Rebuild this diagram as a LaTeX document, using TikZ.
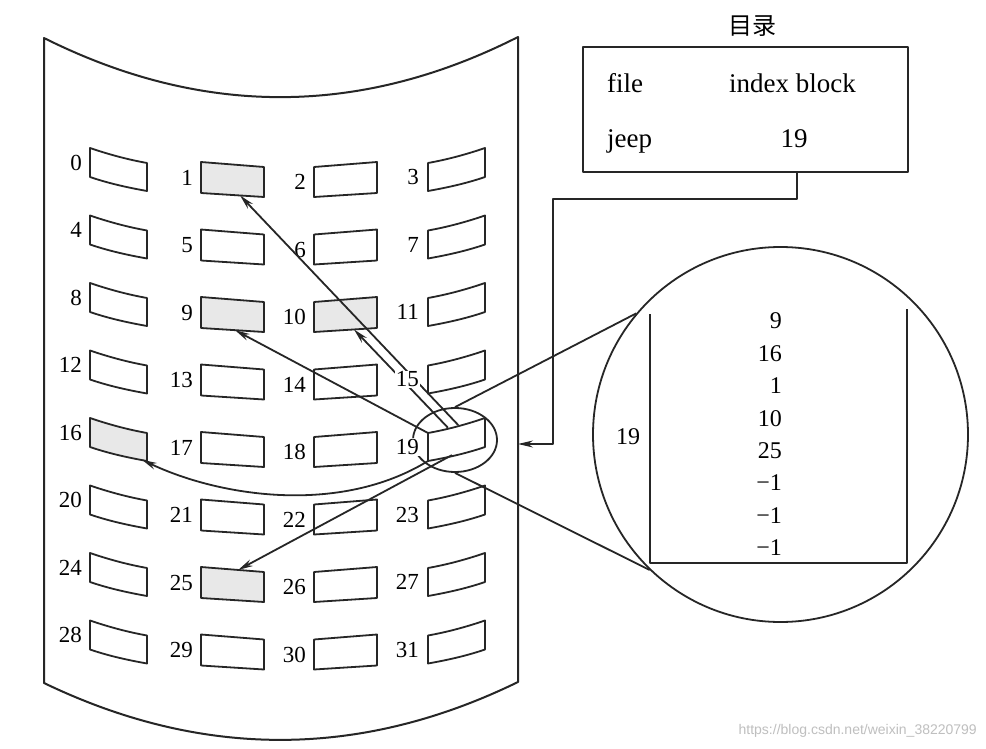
\documentclass[tikz,border=0pt]{standalone}
\usepackage{fontspec}
\setmainfont{Liberation Serif}
\newfontfamily\cjkfont{Noto Sans CJK SC}
\newfontfamily\wmfont{Liberation Sans}
\usetikzlibrary{arrows.meta,shapes.geometric,calc}
\begin{document}
\begin{tikzpicture}[x=1pt,y=-1pt,line join=round,
  ln/.style={line width=1.8pt,draw=black!85},
  blk/.style={ln},
  lbl/.style={font=\fontsize{23}{25}\selectfont,anchor=east,inner sep=0pt},
  val/.style={font=\fontsize{24}{26}\selectfont,anchor=east,inner sep=0pt},
  tab/.style={font=\fontsize{27}{29}\selectfont,inner sep=0pt},
  arr/.style={ln,-{Stealth[length=15pt,width=7pt,inset=5pt]}},
  mask/.style={fill=white,inner sep=1pt}]
\useasboundingbox (0,0) rectangle (986,749);
\fill[white] (0,0) rectangle (986,749);

% disk surface
\draw[ln,line width=2pt] (44,38) -- (44,683) .. controls (202,759) and (360,759) .. (518,682)
  -- (518,37) .. controls (360,117) and (202,117) .. cycle;
\coordinate (diskin) at (518,444);

% blocks
\foreach \r in {0,...,7}{
  \pgfmathsetmacro\ya{148+67.5*\r}
  \pgfmathsetmacro\yb{162+67.5*\r}
  \foreach \c in {0,1,2,3}{
    \pgfmathtruncatemacro\n{4*\r+\c}
    \pgfmathtruncatemacro\s{(\n==1)||(\n==9)||(\n==10)||(\n==16)||(\n==25)}
    \ifnum\s=1 \def\fc{black!9}\else\def\fc{white}\fi
    \ifcase\c
      \draw[blk,fill=\fc] (90,\ya) .. controls (109,\ya+6.5) and (128,\ya+11.6) .. (147,\ya+15)
        -- (147,\ya+43) .. controls (128,\ya+39.6) and (109,\ya+35.5) .. (90,\ya+29) -- cycle;
      \coordinate (b\n-tl) at (90,\ya); \coordinate (b\n-tr) at (147,\ya+15);
      \coordinate (b\n-br) at (147,\ya+43); \coordinate (b\n-bl) at (90,\ya+29);
      \node[lbl] (l\n) at (82,\ya+14.5) {\n};
    \or
      \draw[blk,fill=\fc] (201,\yb) -- (264,\yb+5) -- (264,\yb+35) -- (201,\yb+31) -- cycle;
      \coordinate (b\n-tl) at (201,\yb); \coordinate (b\n-tr) at (264,\yb+5);
      \coordinate (b\n-br) at (264,\yb+35); \coordinate (b\n-bl) at (201,\yb+31);
      \node[lbl] (l\n) at (193,\yb+15.5) {\n};
    \or
      \draw[blk,fill=\fc] (314,\yb+5) -- (377,\yb) -- (377,\yb+31) -- (314,\yb+35) -- cycle;
      \coordinate (b\n-tl) at (314,\yb+5); \coordinate (b\n-tr) at (377,\yb);
      \coordinate (b\n-br) at (377,\yb+31); \coordinate (b\n-bl) at (314,\yb+35);
      \node[lbl] (l\n) at (306,\yb+20) {\n};
    \or
      \draw[blk,fill=\fc] (485,\ya) .. controls (466,\ya+6.5) and (447,\ya+11.6) .. (428,\ya+15)
        -- (428,\ya+43) .. controls (447,\ya+39.6) and (466,\ya+35.5) .. (485,\ya+29) -- cycle;
      \coordinate (b\n-tl) at (428,\ya+15); \coordinate (b\n-tr) at (485,\ya);
      \coordinate (b\n-br) at (485,\ya+29); \coordinate (b\n-bl) at (428,\ya+43);
      \ifnum\n=15 \else\ifnum\n=19 \else
      \node[lbl] (l\n) at (419,\ya+29) {\n};
      \fi\fi
    \fi
  }
}

% magnifier
\node[ellipse,ln,draw,minimum width=84pt,minimum height=64pt,inner sep=0pt] (mag) at (455,440) {};
\node[circle,ln,draw,minimum size=375pt,inner sep=0pt] (big) at (780.5,434.5) {};
\draw[ln] (mag.north) -- (big.140.6);
\draw[ln] (mag.south) -- (big.226);

% pointers of index block 19
\coordinate (s1) at ($(b19-tl)!0.53!(b19-tr)$);
\coordinate (s10) at ($(b19-tl)!0.35!(b19-tr)$);
\coordinate (s25) at ($(b19-bl)!0.42!(b19-br)$);
\coordinate (t1) at ($(b1-bl)!0.62!(b1-br)$);
\coordinate (t10) at ($(b10-bl)!0.635!(b10-br)$);
\coordinate (t9) at ($(b9-bl)!0.54!(b9-br)$);
\coordinate (t16) at ($(b16-bl)!0.91!(b16-br)$);
\coordinate (t25) at ($(b25-tl)!0.59!(b25-tr)$);
\draw[arr] (s1) -- (t1);
\draw[arr] (s10) -- (t10);
\draw[arr] (b19-tl) -- (t9);
\draw[arr] (b19-bl) .. controls (340,515) and (220,497) .. (t16);
\draw[arr] (s25) -- (t25);

% labels 15 and 19 (masking lines)
\node[lbl,mask] (l15) at (420,350.5+29) {15};
\node[lbl,mask] (l19) at (420,418+29) {19};

% index block contents
\draw[ln] (650,314) -- (650,563) -- (907,563) -- (907,309);
\foreach \v [count=\i from 0] in {9,16,1,10,25,−1,−1,−1}
  \node[val] (v\i) at (782,321+32.4*\i) {\v};
\node[val,anchor=center] (ib) at (628,437) {19};

% directory
\node[font=\cjkfont\fontsize{24}{26}\selectfont,inner sep=0pt] (ttl) at (752,26) {目录};
\node[ln,draw,minimum width=325pt,minimum height=125pt] (dir) at (745.5,109.5) {};
\node[tab,anchor=base west] (f1) at (607,93) {file};
\node[tab,anchor=base] (f2) at (792.5,93) {index block};
\node[tab,anchor=base west] (f3) at (607,148) {jeep};
\node[tab,anchor=base] (f4) at (794,148) {19};
\draw[arr] ([xshift=51.5pt]dir.south) |- (553,199) |- (diskin);

% watermark
\node[font=\wmfont\fontsize{14}{16}\selectfont,text=black!25,anchor=east,inner sep=0pt] (wm) at (977,731) {https://blog.csdn.net/weixin\_38220799};
\end{tikzpicture}
\end{document}
